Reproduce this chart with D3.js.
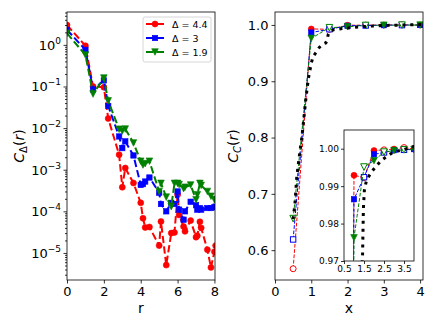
<html>
<head>
<script src="https://d3js.org/d3.v7.min.js"></script>
<style>
  body { margin: 0; background: white; }
  text { font-family: "DejaVu Sans", sans-serif; }
</style>
</head>
<body>
<svg width="436" height="327" id="fig"></svg>
<script>
// ---- left panel data: C_Delta(r) on lattice distances ----
const rVals = [0, 1, 1.414, 2, 2.236, 2.828, 3, 3.162, 3.606, 4, 4.123, 4.243, 4.472, 5, 5.099,
  5.385, 5.657, 5.831, 6, 6.083, 6.325, 6.403, 6.708, 7, 7.071, 7.211, 7.28, 7.616, 7.81, 8, 8.062];
const cDelta44 = [3.0, 0.95, 0.10, 0.096, 0.017, 0.0023, 3.8e-4, 1.1e-3, 4.8e-4, 1.6e-4, 6.8e-5,
  4.1e-5, 4.2e-5, 1.5e-5, 5.7e-5, 5.1e-6, 3.0e-5, 3.1e-5, 2.5e-4, 8.2e-5, 4.3e-5, 3.3e-5, 6.0e-5,
  2.4e-5, 2.6e-5, 5.6e-5, 4.0e-5, 1.2e-5, 4.5e-6, 1.07e-5, 1.5e-5];
const cDelta3 = [2.3, 0.76, 0.085, 0.14, 0.034, 6.3e-3, 3.3e-3, 4.8e-3, 2.2e-3, 4.3e-4, 4.5e-4,
  5.2e-4, 6.5e-4, 2.8e-4, 1.5e-4, 1.0e-4, 1.6e-4, 1.5e-4, 3.0e-4, 1.1e-4, 6.3e-5, 1.0e-4, 1.7e-4,
  1.4e-4, 1.1e-4, 1.2e-4, 1.1e-4, 1.2e-4, 1.2e-4, 1.25e-4, 1.3e-4];
const cDelta19 = [1.9, 0.57, 0.066, 0.16, 0.045, 9.4e-3, 8.5e-3, 9.5e-3, 4.4e-3, 1.6e-3, 1.3e-3,
  1.4e-3, 1.6e-3, 3.0e-4, 4.7e-4, 2.2e-4, 1.3e-4, 4.7e-4, 4.7e-4, 4.4e-4, 3.5e-4, 3.8e-4, 4.3e-4,
  1.9e-4, 2.5e-4, 4.7e-4, 4.2e-4, 3.0e-4, 2.3e-4, 1.9e-4, 1.9e-4];
const legendLabels = ["Δ = 4.4", "Δ = 3", "Δ = 1.9"];

// ---- right panel data: C_C(x) ----
const xVals = [0.5, 1, 1.5, 2, 2.5, 3, 3.5, 4];
const cc44 = [0.567, 0.9929, 0.9923, 0.9995, 0.9997, 0.9999, 1.0003, 0.9999];
const cc3 = [0.619, 0.9865, 0.9924, 0.9985, 0.999, 0.9996, 0.9997, 0.9999];
const cc19 = [0.656, 0.9762, 0.9951, 0.9968, 0.9991, 0.9995, 0.9997, 0.9998];
const refX = [0.5, 0.55, 0.6, 0.68, 0.74, 0.85, 0.92, 1.0, 1.05, 1.14, 1.22, 1.32, 1.4, 1.43,
  1.45, 1.47, 1.52, 1.63, 1.92, 2.35, 2.93, 3.5, 4.0, 4.1];
const refY = [0.655, 0.683, 0.73, 0.772, 0.8, 0.868, 0.905, 0.932, 0.944, 0.952, 0.96, 0.966,
  0.968, 0.972, 0.978, 0.984, 0.989, 0.9917, 0.9941, 0.9968, 0.999, 0.9998, 1.0006, 1.0007];

// tick labels
const logTicks = [0, -1, -2, -3, -4, -5];
const rTicks = [0, 2, 4, 6, 8];
const ccTicksY = [0.6, 0.7, 0.8, 0.9, 1.0];
const ccTicksX = [0, 1, 2, 3, 4];
const insetTicksY = [0.97, 0.98, 0.99, 1.0];
const insetTicksX = [0.5, 1.5, 2.5, 3.5];

const series = [
  { color: "#ff0000", kind: "circle" },
  { color: "#0000ff", kind: "square" },
  { color: "#008000", kind: "tri" },
];

const svg = d3.select("svg#fig");
svg.append("rect").attr("width", 436).attr("height", 327).attr("fill", "white");

// scales
const xL = d3.scaleLinear().domain([0, 8.03]).range([67, 215]);
const yL = d3.scaleLog().domain([Math.pow(10, -5.65), Math.pow(10, 0.79)]).range([280, 12]);
const xR = d3.scaleLinear().domain([0, 4.08]).range([275, 423]);
const yR = d3.scaleLinear().domain([0.547, 1.023]).range([280, 12]);
const xI = d3.scaleLinear().domain([0.5, 4.0]).range([344, 414]);
const yI = d3.scaleLinear().domain([0.97, 1.005]).range([261, 130]);

function clip(id, x, y) {
  svg.append("clipPath").attr("id", id)
    .append("rect")
    .attr("x", x.range()[0]).attr("y", y.range()[1])
    .attr("width", x.range()[1] - x.range()[0])
    .attr("height", y.range()[0] - y.range()[1]);
}
clip("clipL", xL, yL);
clip("clipR", xR, yR);
clip("clipI", xI, yI);

function marker(g, kind, x, y, color, open, s) {
  const fill = open ? "white" : color;
  let m;
  if (kind === "circle") {
    m = g.append("circle").attr("cx", x).attr("cy", y).attr("r", s / 2);
  } else if (kind === "square") {
    const a = s * 0.9;
    m = g.append("rect").attr("x", x - a / 2).attr("y", y - a / 2).attr("width", a).attr("height", a);
  } else {
    const h = s / 2 + 0.3;
    m = g.append("path").attr("d", `M${x},${y + h}L${x - h},${y - h}L${x + h},${y - h}Z`);
  }
  m.attr("fill", fill).attr("stroke", color).attr("stroke-width", open ? 1 : 0.6);
}

function styleAxis(g, size) {
  g.select(".domain").remove();
  g.selectAll("line").attr("stroke", "black").attr("stroke-width", 0.8);
  g.selectAll("text").attr("fill", "black").style("font-size", size + "px")
    .style("font-family", "DejaVu Sans");
}

function frame(x, y) {
  svg.append("rect")
    .attr("x", x.range()[0]).attr("y", y.range()[1])
    .attr("width", x.range()[1] - x.range()[0])
    .attr("height", y.range()[0] - y.range()[1])
    .attr("fill", "none").attr("stroke", "black").attr("stroke-width", 0.8);
}

// ================= left panel =================
const gL = svg.append("g").attr("clip-path", "url(#clipL)");
const leftData = [cDelta44, cDelta3, cDelta19];
leftData.forEach((vals, i) => {
  const pts = rVals.map((r, j) => [r, vals[j]]);
  gL.append("path")
    .attr("d", d3.line().x((d) => xL(d[0])).y((d) => yL(d[1]))(pts))
    .attr("fill", "none")
    .attr("stroke", series[i].color)
    .attr("stroke-width", 2)
    .attr("stroke-dasharray", "7.4 3.2");
  pts.forEach((d) => marker(gL, series[i].kind, xL(d[0]), yL(d[1]), series[i].color, false, 6));
});

// left axes
svg.append("g").attr("transform", "translate(0,280)")
  .call(d3.axisBottom(xL).tickValues(rTicks).tickFormat(d3.format("d")).tickSize(3.5).tickPadding(3))
  .call((g) => styleAxis(g, 13));

const minorL = [];
for (let k = -6; k <= 0; k++) {
  for (let m = 2; m <= 9; m++) {
    const v = m * Math.pow(10, k);
    if (v > yL.domain()[0] && v < yL.domain()[1]) minorL.push(v);
  }
}
svg.append("g").attr("transform", "translate(67,0)")
  .call(d3.axisLeft(yL).tickValues(minorL).tickFormat("").tickSize(2))
  .call((g) => styleAxis(g, 13));
svg.append("g").attr("transform", "translate(67,0)")
  .call(d3.axisLeft(yL).tickValues(logTicks.map((e) => Math.pow(10, e))).tickFormat("").tickSize(3.5))
  .call((g) => styleAxis(g, 13));
logTicks.forEach((e) => {
  const t = svg.append("text")
    .attr("x", 61).attr("y", yL(Math.pow(10, e)) + 5)
    .attr("text-anchor", "end")
    .style("font-size", "13px");
  t.append("tspan").text("10");
  t.append("tspan").attr("dy", -6).style("font-size", "9px")
    .text(e === 0 ? "0" : "\u2212" + Math.abs(e));
});
frame(xL, yL);

// legend
const lg = svg.append("g");
lg.append("rect").attr("x", 143).attr("y", 17).attr("width", 68).attr("height", 45)
  .attr("rx", 2).attr("fill", "white").attr("fill-opacity", 0.8)
  .attr("stroke", "#cccccc").attr("stroke-width", 0.8);
legendLabels.forEach((lab, i) => {
  const y = 24 + i * 14;
  lg.append("line").attr("x1", 146).attr("x2", 164).attr("y1", y).attr("y2", y)
    .attr("stroke", series[i].color).attr("stroke-width", 2).attr("stroke-dasharray", "7.4 3.2");
  marker(lg, series[i].kind, 155, y, series[i].color, false, 6);
  lg.append("text").attr("x", 172).attr("y", y + 3.5).style("font-size", "9.5px").text(lab);
});

// left labels
svg.append("text").attr("x", 141).attr("y", 313).attr("text-anchor", "middle")
  .style("font-size", "14px").text("r");
const yl = svg.append("text").attr("transform", "translate(24,146) rotate(-90)")
  .attr("text-anchor", "middle").style("font-size", "14px");
yl.append("tspan").style("font-style", "italic").text("C");
yl.append("tspan").attr("dy", 3).style("font-size", "10px").text("Δ");
yl.append("tspan").attr("dy", -3).text("(");
yl.append("tspan").style("font-style", "italic").text("r");
yl.append("tspan").text(")");

// ================= right panel =================
const rightData = [cc44, cc3, cc19];
function drawCC(g, x, y, size) {
  rightData.forEach((vals, i) => {
    const pts = xVals.map((v, j) => [v, vals[j]]);
    g.append("path")
      .attr("d", d3.line().x((d) => x(d[0])).y((d) => y(d[1]))(pts))
      .attr("fill", "none")
      .attr("stroke", series[i].color)
      .attr("stroke-width", 1)
      .attr("stroke-dasharray", "3.7 1.6");
    pts.forEach((d) =>
      marker(g, series[i].kind, x(d[0]), y(d[1]), series[i].color, d[0] % 1 !== 0, size));
  });
  const ref = refX.map((v, j) => [v, refY[j]]);
  g.append("path")
    .attr("d", d3.line().x((d) => x(d[0])).y((d) => y(d[1]))(ref))
    .attr("fill", "none")
    .attr("stroke", "black")
    .attr("stroke-width", 3)
    .attr("stroke-dasharray", "3 4.9");
}

const gR = svg.append("g").attr("clip-path", "url(#clipR)");
drawCC(gR, xR, yR, 6);

svg.append("g").attr("transform", "translate(0,280)")
  .call(d3.axisBottom(xR).tickValues(ccTicksX).tickFormat(d3.format("d")).tickSize(3.5).tickPadding(3))
  .call((g) => styleAxis(g, 13));
svg.append("g").attr("transform", "translate(275,0)")
  .call(d3.axisLeft(yR).tickValues(ccTicksY).tickFormat(d3.format(".1f")).tickSize(3.5).tickPadding(3))
  .call((g) => styleAxis(g, 13));
frame(xR, yR);

svg.append("text").attr("x", 349).attr("y", 313).attr("text-anchor", "middle")
  .style("font-size", "14px").text("x");
const yr = svg.append("text").attr("transform", "translate(238,146) rotate(-90)")
  .attr("text-anchor", "middle").style("font-size", "14px");
yr.append("tspan").style("font-style", "italic").text("C");
yr.append("tspan").attr("dy", 3).style("font-size", "10px").style("font-style", "italic").text("C");
yr.append("tspan").attr("dy", -3).text("(");
yr.append("tspan").style("font-style", "italic").text("r");
yr.append("tspan").text(")");

// ================= inset =================
svg.append("rect")
  .attr("x", xI.range()[0]).attr("y", yI.range()[1])
  .attr("width", xI.range()[1] - xI.range()[0])
  .attr("height", yI.range()[0] - yI.range()[1])
  .attr("fill", "white");
const gI = svg.append("g").attr("clip-path", "url(#clipI)");
drawCC(gI, xI, yI, 6);
svg.append("g").attr("transform", "translate(0,261)")
  .call(d3.axisBottom(xI).tickValues(insetTicksX).tickFormat(d3.format(".1f")).tickSize(3).tickPadding(2))
  .call((g) => styleAxis(g, 9));
svg.append("g").attr("transform", "translate(344,0)")
  .call(d3.axisLeft(yI).tickValues(insetTicksY).tickFormat(d3.format(".2f")).tickSize(3).tickPadding(2))
  .call((g) => styleAxis(g, 9));
frame(xI, yI);
</script>
</body>
</html>
